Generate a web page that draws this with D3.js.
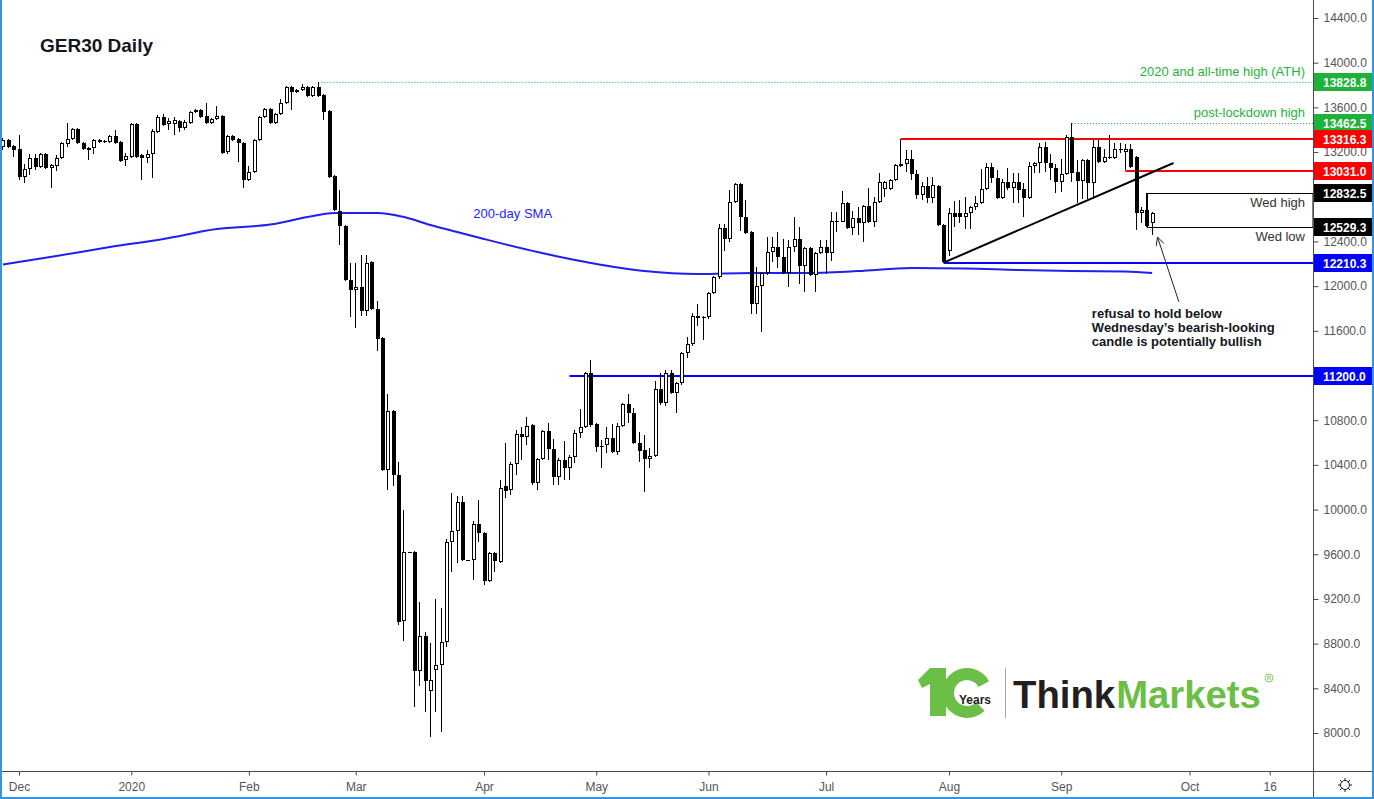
<!DOCTYPE html>
<html>
<head>
<meta charset="utf-8">
<script src="https://cdn.jsdelivr.net/npm/d3@7"></script>
<style>
  body { margin: 0; background: #fff; }
  svg { display: block; }
  text { font-family: "Liberation Sans", Arial, sans-serif; }
</style>
</head>
<body>
<svg id="chart" width="1374" height="799"></svg>
<script>
var W = 1374, H = 799;
var plotRight = 1313, plotBottom = 771;

// sessions: weekdays minus holidays, plus two sunday sessions in march
var firstSession = "2019-11-27", lastSession = "2020-09-24";
var holidays = ["2019-12-25", "2020-01-01", "2020-04-10"];
var extraSessions = ["2020-03-15", "2020-03-29"];

// daily candles [open, high, low, close], month by month
var nov = [[13245,13326,13218,13308],[13308,13320,13236,13245],[13254,13262,13156,13218]];
var dec = [[13227,13353,12950,12977],[12977,13093,12923,13048],[13048,13183,12995,13147],[13147,13183,13039,13066],
  [13066,13192,13057,13183],[13183,13192,13050,13057],[13057,13093,12878,13084],[13075,13174,13030,13147],
  [13147,13290,13138,13281],[13272,13460,13245,13317],[13317,13415,13308,13406],[13406,13415,13272,13281],
  [13281,13290,13218,13227],[13236,13245,13129,13218],[13236,13317,13183,13308],[13290,13317,13280,13308],
  [13299,13308,13281,13290],[13290,13353,13281,13344],[13344,13397,13272,13281],[13290,13299,13111,13120],
  [13129,13192,13075,13165]];
var jan = [[13156,13460,13150,13451],[13451,13460,13147,13156],[13174,13183,12950,13147],[13147,13218,13102,13183],
  [13183,13406,12968,13388],[13379,13532,13370,13514],[13514,13541,13433,13442],[13451,13505,13397,13478],
  [13451,13514,13353,13487],[13478,13487,13379,13415],[13415,13487,13397,13469],[13460,13567,13451,13558],
  [13558,13585,13549,13576],[13576,13585,13505,13514],[13523,13639,13451,13460],[13460,13505,13451,13496],
  [13496,13612,13487,13523],[13523,13532,13183,13192],[13200,13353,13183,13344],[13344,13353,13299,13308],
  [13317,13326,13111,13281],[13281,13290,12878,12950]];
var feb = [[12950,13075,12941,13021],[13021,13317,13012,13308],[13308,13523,13299,13514],[13514,13594,13505,13585],
  [13585,13594,13451,13460],[13460,13549,13451,13541],[13541,13675,13532,13639],[13639,13791,13630,13782],
  [13782,13791,13576,13737],[13755,13764,13728,13737],[13755,13809,13746,13782],[13782,13791,13693,13702],
  [13702,13791,13693,13782],[13782,13828.8,13693,13702],[13711,13720,13487,13558],[13567,13576,12968,12977],
  [12986,12995,12672,12681],[12672,12860,12368,12538],[12538,12547,12046,12055],[12055,12207,11724,11965]];
var mar = [[11965,12207,11625,11992],[11992,12278,11733,11777],[11777,12278,11733,12207],[12216,12225,11786,11795],
  [11795,11867,11419,11527],[11536,11545,10345,10354],[10354,11034,10175,10882],[10882,10891,10211,10309],
  [10309,10426,8966,8993],[9002,9996,8823,9620],[9620,9620,9620,9620],[9620,9630,8233,8555],
  [8555,9173,8420,8868],[8868,8904,8188,8465],[8376,8805,7964,8474],[8564,9199,8188,8608],
  [8608,9119,8009,8814],[8814,9736,8770,9710],[9710,10148,9441,9808],[9808,10121,9522,10067],
  [10067,10121,9539,9548],[9548,9548,9548,9548],[9548,9897,9369,9871],[9871,10085,9710,9790]];
var apr = [[9790,9799,9325,9360],[9360,9620,9351,9611],[9611,9620,9441,9539],[9530,10264,9522,10193],
  [10211,10596,10103,10166],[10175,10426,10130,10408],[10408,10712,10309,10676],[10676,10739,10444,10649],
  [10649,10828,10578,10748],[10757,10766,10220,10238],[10238,10462,10175,10453],[10453,10712,10444,10703],
  [10703,10774,10444,10542],[10542,10631,10220,10291],[10291,10462,10220,10444],[10444,10614,10264,10372],
  [10372,10488,10264,10470],[10470,10712,10417,10685],[10685,10900,10640,10739],[10739,11231,10730,11222],
  [11222,11339,10739,10757]];
var may = [[10766,10775,10515,10560],[10569,10623,10372,10560],[10578,10739,10506,10640],[10640,10766,10506,10515],
  [10515,10775,10488,10748],[10748,10954,10739,10945],[10945,11034,10775,10864],[10864,10909,10587,10596],
  [10596,10694,10426,10524],[10533,10667,10157,10453],[10453,10551,10372,10479],[10479,11151,10470,11079],
  [11079,11222,10936,10954],[10954,11250,10927,11222],[11222,11250,11035,11043],[11043,11142,10864,11133],
  [11133,11410,11115,11401],[11401,11545,11357,11482],[11482,11760,11464,11733],[11733,11840,11643,11715],
  [11724,11733,11518,11715]];
var jun = [[11724,11947,11706,11938],[11938,12091,11929,12082],[12082,12556,12064,12520],[12520,12556,12314,12422],
  [12422,12860,12395,12753],[12753,12923,12744,12914],[12914,12923,12493,12619],[12619,12771,12466,12475],
  [12484,12493,11750,11840],[11840,12171,11750,12001],[12001,12126,11589,12117],[12117,12440,12100,12305],
  [12305,12440,12216,12350],[12350,12484,12162,12261],[12261,12422,12108,12117],[12117,12413,11992,12350],
  [12350,12619,12305,12422],[12422,12529,12019,12180],[12180,12350,11947,12341],[12341,12350,12091,12100],
  [12100,12305,11947,12296],[12296,12413,12287,12350]];
var jul = [[12350,12413,12108,12296],[12296,12663,12225,12583],[12583,12663,12484,12574],[12574,12851,12570,12744],
  [12744,12753,12511,12520],[12520,12672,12458,12610],[12610,12708,12458,12565],[12565,12726,12395,12717],
  [12717,12878,12565,12574],[12574,12798,12529,12753],[12753,13012,12744,12932],[12869,12941,12798,12932],
  [12869,12955,12860,12950],[12950,13093,12941,13084],[13093,13316.3,13070,13075],[13093,13218,13021,13138],
  [13138,13218,12950,13003],[13003,13039,12780,12815],[12815,12932,12771,12896],[12896,12977,12744,12789],
  [12789,12977,12744,12905],[12896,12905,12538,12547],[12547,12556,12210.3,12216]];
var aug = [[12314,12699,12270,12654],[12654,12762,12529,12619],[12654,12771,12565,12619],[12619,12798,12511,12654],
  [12654,12717,12511,12708],[12708,12807,12681,12744],[12744,13048,12735,12869],[12869,13102,12860,13066],
  [13066,13102,12923,12968],[12968,13039,12780,12789],[12789,12959,12780,12932],[12932,13057,12860,12878],
  [12878,13012,12744,12932],[12932,13012,12744,12860],[12869,12923,12619,12789],[12789,13111,12780,13075],
  [13075,13111,13012,13102],[13102,13281,13012,13245],[13245,13290,13021,13102],[13102,13183,12950,13057],
  [13057,13093,12833,12932]];
var sep = [[12932,13138,12842,13003],[13003,13353,12995,13335],[13335,13462.5,12932,13012],[13021,13129,12744,12941],
  [12941,13138,12780,13129],[13129,13138,12780,12923],[12923,13317,12780,13245],[13245,13317,13102,13111],
  [13111,13227,13102,13156],[13156,13353,13140,13147],[13147,13281,13138,13227],[13227,13281,13192,13218],
  [13200,13272,13039,13227],[13227,13272,13057,13066],[13156,13165,12502,12654],[12654,12708,12565,12681],
  [12681,12832.5,12529.3,12538],[12565,12663,12458,12654]];

// 200-day SMA
var smaDates = ["2019-11-27","2019-12-11","2019-12-26","2020-01-10","2020-01-24","2020-02-07","2020-02-19",
  "2020-02-25","2020-03-06","2020-03-13","2020-03-19","2020-03-26","2020-04-01","2020-04-16","2020-04-30",
  "2020-05-14","2020-05-28","2020-06-11","2020-06-25","2020-07-09","2020-07-23","2020-08-06","2020-08-20",
  "2020-09-03","2020-09-17","2020-09-24"];
var smaValues = [12193,12270,12350,12422,12511,12551,12628,12654,12654,12619,12547,12484,12422,12305,12207,
  12135,12108,12117,12117,12135,12162,12158,12144,12135,12131,12117];

var yTicks = [8000,8400,8800,9200,9600,10000,10400,10800,11200,11600,12000,12400,12800,13200,13600,14000,14400];
var monthTicks = ["2019-12-02","2020-01-02","2020-02-03","2020-03-02","2020-04-01","2020-05-01","2020-06-01",
  "2020-07-01","2020-08-03","2020-09-01","2020-10-01","2020-10-16"];
var monthLabels = ["Dec","2020","Feb","Mar","Apr","May","Jun","Jul","Aug","Sep","Oct","16"];

// horizontal levels and their axis tags
var levelValues = [13828.8, 13462.5, 13316.3, 13031.0, 12832.5, 12529.3, 12210.3, 11200.0];
var levelColors = ["#1fb23a","#1fb23a","#ff0000","#ff0000","#000000","#000000","#0000ff","#0000ff"];

var noteLines = ["refusal to hold below", "Wednesday\u2019s bearish-looking", "candle is potentially bullish"];

var parse = d3.timeParse("%Y-%m-%d"), fmt = d3.timeFormat("%Y-%m-%d");
var days = d3.timeDay.range(parse(firstSession), d3.timeDay.offset(parse(lastSession), 1))
  .filter(function(d) {
    var s = fmt(d), wd = d.getDay();
    return (wd > 0 && wd < 6 && holidays.indexOf(s) < 0) || extraSessions.indexOf(s) >= 0;
  })
  .map(fmt);

var candles = [].concat(nov, dec, jan, feb, mar, apr, may, jun, jul, aug, sep).map(function(c, i) {
  return {i: i, date: days[i], o: c[0], h: c[1], l: c[2], c: c[3]};
});

// bar index of a date; past the last bar the axis runs on calendar days
function idx(s) {
  var k = days.indexOf(s);
  if (k >= 0) return k;
  return days.length - 1 + d3.timeDay.count(parse(days[days.length - 1]), parse(s));
}

var x = d3.scaleLinear().domain([-0.56, days.length - 1 + 30.1]).range([0, plotRight]);
var y = d3.scaleLinear().domain([8000, 14400]).range([733, 18]);

var svg = d3.select("#chart");
svg.append("rect").attr("width", W).attr("height", H).attr("fill", "#fff");

var plot = svg.append("g");

// title
svg.append("text").attr("x", 40).attr("y", 52)
  .attr("font-size", 19).attr("font-weight", "bold").attr("fill", "#131722").text("GER30 Daily");

// 200-day SMA
plot.append("path")
  .datum(smaDates.map(function(d, k) { return [idx(d), smaValues[k]]; }))
  .attr("fill", "none").attr("stroke", "#1f1ff2").attr("stroke-width", 2)
  .attr("d", d3.line().x(function(d) { return x(d[0]); }).y(function(d) { return y(d[1]); }).curve(d3.curveMonotoneX));

plot.append("text").attr("x", x(idx("2020-03-30"))).attr("y", 218)
  .attr("font-size", 13).attr("fill", "#2323ff").text("200-day SMA");

// level lines
function hline(fromDate, value, color, width, dash) {
  var yy = Math.round(y(value)) + (width % 2 ? 0.5 : 0);
  plot.append("line")
    .attr("x1", x(idx(fromDate))).attr("x2", plotRight)
    .attr("y1", yy).attr("y2", yy)
    .attr("stroke", color).attr("stroke-width", width)
    .attr("stroke-dasharray", dash || null);
}
hline("2020-02-20", levelValues[0], "#1fb23a", 1, "1 2");
hline("2020-09-03", levelValues[1], "#1fb23a", 1, "1 2");
hline("2020-07-21", levelValues[2], "#ff0000", 2);
hline("2020-09-17", levelValues[3], "#ff0000", 2);
hline("2020-07-31", levelValues[6], "#0000ff", 2);
hline("2020-04-24", levelValues[7], "#0000ff", 2);

// Wednesday box
var wedX = Math.round(x(idx("2020-09-23"))) + 0.5;
plot.append("rect")
  .attr("x", wedX).attr("y", Math.round(y(levelValues[4])) + 0.5)
  .attr("width", plotRight - wedX)
  .attr("height", Math.round(y(levelValues[5])) - Math.round(y(levelValues[4])))
  .attr("fill", "none").attr("stroke", "#000").attr("stroke-width", 1);

// rising trendline
plot.append("line")
  .attr("x1", x(idx("2020-07-31"))).attr("y1", y(12210.3))
  .attr("x2", x(idx("2020-09-28"))).attr("y2", y(13102))
  .attr("stroke", "#000").attr("stroke-width", 2);

// candles
var wicks = plot.append("g"), bodies = plot.append("g");
wicks.selectAll("line").data(candles).join("line")
  .attr("x1", function(d) { return Math.floor(x(d.i)) + 0.5; })
  .attr("x2", function(d) { return Math.floor(x(d.i)) + 0.5; })
  .attr("y1", function(d) { return Math.round(y(d.h)); })
  .attr("y2", function(d) { return Math.round(y(d.l)); })
  .attr("stroke", "#000").attr("stroke-width", 1);

bodies.selectAll("rect").data(candles).join("rect")
  .each(function(d) {
    var c = Math.floor(x(d.i));
    var top = Math.round(y(Math.max(d.o, d.c))), bot = Math.round(y(Math.min(d.o, d.c)));
    var el = d3.select(this);
    if (d.c > d.o) {
      el.attr("x", c - 0.5).attr("width", 3)
        .attr("y", top + 0.5).attr("height", Math.max(1, bot - top - 1))
        .attr("fill", "#fff").attr("stroke", "#000").attr("stroke-width", 1);
    } else {
      el.attr("x", c - 1).attr("width", 4)
        .attr("y", top).attr("height", Math.max(1, bot - top))
        .attr("fill", "#000");
    }
  });

// arrow
var tipX = x(idx("2020-09-25")), tipY = y(12440), tailX = x(idx("2020-09-29")), tailY = y(11860);
plot.append("line").attr("x1", tailX).attr("y1", tailY).attr("x2", tipX).attr("y2", tipY)
  .attr("stroke", "#222").attr("stroke-width", 1);
var ang = Math.atan2(tipY - tailY, tipX - tailX);
[-0.45, 0.45].forEach(function(a) {
  plot.append("line").attr("x1", tipX).attr("y1", tipY)
    .attr("x2", tipX - 9 * Math.cos(ang + a)).attr("y2", tipY - 9 * Math.sin(ang + a))
    .attr("stroke", "#222").attr("stroke-width", 1);
});

// notes
var rightText = plotRight - 8;
function note(txt, yy, color) {
  plot.append("text").attr("x", rightText).attr("y", yy).attr("text-anchor", "end")
    .attr("font-size", 13).attr("fill", color).text(txt);
}
note("2020 and all-time high (ATH)", y(levelValues[0]) - 6, "#1fb23a");
note("post-lockdown high", y(levelValues[1]) - 6, "#1fb23a");
note("Wed high", y(levelValues[4]) + 14, "#333");
note("Wed low", y(levelValues[5]) + 14, "#333");

plot.append("g").selectAll("text").data(noteLines).join("text")
  .attr("x", tailX - 87).attr("y", function(d, k) { return tailY + 16 + k * 14; })
  .attr("font-size", 13).attr("font-weight", "bold").attr("fill", "#131722")
  .text(function(d) { return d; });

// logo
var logo = svg.append("g").attr("transform", "translate(918,666)");
logo.append("path").attr("d", "M0,14 L12,2 L28,2 L28,50 L12,50 L12,18 L4,22 Z").attr("fill", "#6cbf46");
logo.append("path")
  .attr("transform", "translate(49,27)")
  .attr("d", d3.arc().innerRadius(13).outerRadius(25).startAngle(135 * Math.PI / 180).endAngle(422 * Math.PI / 180)())
  .attr("fill", "#6cbf46");
logo.append("text").attr("x", 41).attr("y", 38).attr("font-size", 12).attr("font-weight", "bold")
  .attr("fill", "#231f20").text("Years");
logo.append("line").attr("x1", 87.5).attr("x2", 87.5).attr("y1", 2).attr("y2", 52).attr("stroke", "#aaa");

// wordmark: two words, sized so together they span ~247px
var word1 = logo.append("text").attr("x", 95).attr("y", 42).attr("font-size", 44)
  .attr("font-family", "Roboto, sans-serif").attr("font-weight", 700).attr("fill", "#231f20").text("Think");
var word2 = logo.append("text").attr("y", 42).attr("font-size", 44)
  .attr("font-family", "Roboto, sans-serif").attr("font-weight", 700).attr("fill", "#6cbf46").text("Markets");
var w1 = word1.node().getComputedTextLength(), w2 = word2.node().getComputedTextLength();
var fs = 44 * 247 / (w1 + w2);
word1.attr("font-size", fs);
word2.attr("font-size", fs).attr("x", 95 + w1 * fs / 44 + 1);

var reg = logo.append("g").attr("transform", "translate(351,12)");
reg.append("circle").attr("r", 4).attr("fill", "none").attr("stroke", "#6cbf46").attr("stroke-width", 0.8);
reg.append("path").attr("d", "M-1.3,2 V-2 H0.6 Q1.8,-2 1.8,-0.9 Q1.8,0 0.6,0 H-1.3 M0.4,0 L1.8,2")
  .attr("fill", "none").attr("stroke", "#6cbf46").attr("stroke-width", 0.7);

// axes
var axisColor = "#4a4a4a";
svg.append("line").attr("x1", plotRight + 0.5).attr("x2", plotRight + 0.5).attr("y1", 0).attr("y2", H)
  .attr("stroke", axisColor);
svg.append("line").attr("x1", 0).attr("x2", W).attr("y1", plotBottom + 0.5).attr("y2", plotBottom + 0.5)
  .attr("stroke", axisColor);

// tick labels sitting right under a level tag are hidden, as in the original
var shownTicks = yTicks.filter(function(t) {
  return !levelValues.some(function(v) { return Math.abs(y(v) - y(t)) < 9; });
});
var yAxis = svg.append("g").attr("transform", "translate(" + (plotRight + 0.5) + ",0)")
  .call(d3.axisRight(y).tickValues(shownTicks).tickSize(5).tickPadding(5).tickFormat(d3.format(".1f")));
yAxis.select(".domain").remove();
yAxis.selectAll("line").attr("stroke", axisColor);
yAxis.selectAll("text").attr("font-size", 12).attr("fill", "#555").attr("font-family", "Liberation Sans, Arial, sans-serif");

var xAxis = svg.append("g").attr("transform", "translate(0," + (plotBottom + 0.5) + ")")
  .call(d3.axisBottom(x).tickValues(monthTicks.map(idx)).tickSize(4).tickPadding(7)
    .tickFormat(function(d, k) { return monthLabels[k]; }));
xAxis.select(".domain").remove();
xAxis.selectAll("line").attr("stroke", axisColor);
xAxis.selectAll("text").attr("font-size", 12).attr("fill", "#555").attr("font-family", "Liberation Sans, Arial, sans-serif");

// axis tags for levels
var tags = svg.append("g").selectAll("g").data(levelValues).join("g")
  .attr("transform", function(d) { return "translate(" + (plotRight + 1) + "," + Math.round(y(d)) + ")"; });
tags.append("rect").attr("x", 0).attr("y", -9).attr("width", 59).attr("height", 18)
  .attr("fill", function(d, k) { return levelColors[k]; });
tags.append("text").attr("x", 9).attr("y", 4.5).attr("font-size", 12).attr("font-weight", "bold")
  .attr("fill", "#fff").text(function(d) { return d3.format(".1f")(d); });

// settings icon
var gear = svg.append("g").attr("transform", "translate(1345,785)");
gear.append("circle").attr("r", 4.5).attr("fill", "none").attr("stroke", "#222").attr("stroke-width", 1);
d3.range(8).forEach(function(k) {
  var a = k * Math.PI / 4;
  gear.append("line").attr("x1", 4.5 * Math.cos(a)).attr("y1", 4.5 * Math.sin(a))
    .attr("x2", 7 * Math.cos(a)).attr("y2", 7 * Math.sin(a)).attr("stroke", "#222");
});

// frame
svg.append("path").attr("d", "M1,0 V798 H1373 V0").attr("fill", "none").attr("stroke", "#2f96ea").attr("stroke-width", 2);
</script>
</body>
</html>
